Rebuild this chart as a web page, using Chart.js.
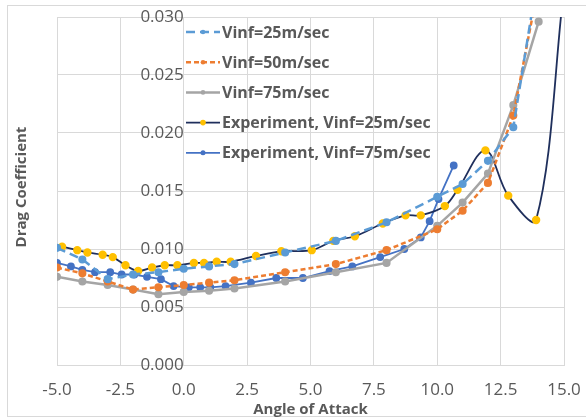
<!DOCTYPE html>
<html>
<head>
<meta charset="utf-8">
<script src="https://cdn.jsdelivr.net/npm/chart.js@4.4.1/dist/chart.umd.min.js"></script>
<style>
  html, body { margin: 0; padding: 0; background: #ffffff; }
  #wrap { width: 586px; height: 420px; position: relative; }
</style>
</head>
<body>
<div id="wrap"><canvas id="c" width="586" height="420"></canvas></div>
<script>
// ---- Data ----
const cfdAngles = [-5, -4, -3, -2, -1, 0, 1, 2, 4, 6, 8, 10, 11, 12, 13, 14];
const cdVinf25 = [0.0101, 0.0091, 0.0074, 0.0078, 0.0080, 0.0083, 0.0085, 0.0087, 0.0097, 0.0107, 0.0123, 0.0145, 0.0156, 0.0176, 0.0205, 0.0340];
const cdVinf50 = [0.0084, 0.0079, 0.0072, 0.0065, 0.0067, 0.0069, 0.0071, 0.0073, 0.0080, 0.0087, 0.0099, 0.0117, 0.0133, 0.0157, 0.0215, 0.0328];
const cdVinf75 = [0.0076, 0.0072, 0.0069, 0.0065, 0.0061, 0.0063, 0.0064, 0.0066, 0.0072, 0.0080, 0.0088, 0.0120, 0.0140, 0.0165, 0.0224, 0.0296];

const expAngles25 = [-4.8, -4.2, -3.8, -3.2, -2.8, -2.3, -1.8, -1.25, -0.75, -0.25, 0.4, 0.8, 1.3, 1.85, 2.85, 3.85, 5.05, 5.9, 6.75, 7.85, 8.75, 9.35, 10.3, 10.8, 11.9, 12.8, 13.9, 15.0];
const expCd25 = [0.0102, 0.0099, 0.0097, 0.0095, 0.0093, 0.0086, 0.0081, 0.0084, 0.0086, 0.0086, 0.0088, 0.0088, 0.0089, 0.0089, 0.0094, 0.0098, 0.0099, 0.0107, 0.0111, 0.0122, 0.0129, 0.0129, 0.0137, 0.0151, 0.0185, 0.0146, 0.0125, 0.0325];

const expAngles75 = [-5.0, -4.45, -4.0, -3.5, -2.9, -2.45, -1.95, -1.45, -0.9, -0.4, 0.2, 0.65, 1.05, 1.65, 2.65, 3.65, 4.7, 5.75, 6.65, 7.75, 8.7, 9.35, 9.7, 10.05, 10.65];
const expCd75 = [0.0088, 0.0085, 0.0082, 0.0080, 0.0080, 0.0078, 0.0078, 0.0076, 0.0074, 0.0068, 0.0067, 0.0067, 0.0067, 0.0068, 0.0071, 0.0075, 0.0075, 0.0081, 0.0085, 0.0093, 0.0100, 0.0110, 0.0124, 0.0143, 0.0172];

const seriesNames = ['Vinf=25m/sec', 'Vinf=50m/sec', 'Vinf=75m/sec', 'Experiment, Vinf=25m/sec', 'Experiment, Vinf=75m/sec'];
const xTickMin = -5, xTickMax = 15, xTickStep = 2.5;
const yTickMin = 0, yTickMax = 0.03, yTickStep = 0.005;
const xTitle = 'Angle of Attack';
const yTitle = 'Drag Coefficient';

const pts = (xs, ys) => xs.map((x, i) => ({ x: x, y: ys[i] }));

const TEXT = '#595959';
const FONT = '"Open Sans", "Noto Sans", sans-serif';

const chartFrame = {
  id: 'chartFrame',
  beforeDraw(chart) {
    const ctx = chart.ctx;
    ctx.save();
    ctx.fillStyle = '#ffffff';
    ctx.fillRect(0, 0, chart.width, chart.height);
    ctx.strokeStyle = '#D9D9D9';
    ctx.lineWidth = 1;
    ctx.strokeRect(7.5, 5.5, chart.width - 6, chart.height - 9);
    ctx.restore();
  },
  afterDraw(chart) {
    const ctx = chart.ctx;
    const a = chart.chartArea;
    // axis titles
    ctx.save();
    ctx.fillStyle = TEXT;
    ctx.font = 'bold 15px ' + FONT;
    ctx.textAlign = 'center';
    ctx.textBaseline = 'middle';
    ctx.fillText(xTitle, (a.left + a.right) / 2, a.bottom + 45);
    ctx.translate(22, (a.top + a.bottom) / 2 - 4);
    ctx.rotate(-Math.PI / 2);
    ctx.fillText(yTitle, 0, 0);
    ctx.restore();

    // legend (Excel style: line sample with a marker in the middle)
    ctx.save();
    const x0 = a.left + 129, x1 = a.left + 163;
    const rowTop = a.top + 15, rowGap = 30.2;
    chart.data.datasets.forEach((ds, i) => {
      const y = rowTop + i * rowGap;
      ctx.strokeStyle = ds.borderColor;
      ctx.lineWidth = ds.borderWidth;
      ctx.setLineDash(ds.borderDash || []);
      ctx.beginPath();
      ctx.moveTo(x0, y);
      ctx.lineTo(x1, y);
      ctx.stroke();
      ctx.setLineDash([]);
      ctx.fillStyle = ds.pointBackgroundColor;
      ctx.beginPath();
      ctx.arc((x0 + x1) / 2, y, Math.max(2, ds.pointRadius - 0.5), 0, Math.PI * 2);
      ctx.fill();
      ctx.fillStyle = TEXT;
      ctx.font = 'bold 16px ' + FONT;
      ctx.textAlign = 'left';
      ctx.textBaseline = 'middle';
      ctx.fillText(ds.label, x1 + 2, y + 1);
    });
    ctx.restore();
  }
};

new Chart(document.getElementById('c'), {
  type: 'line',
  data: {
    datasets: [
      {
        label: seriesNames[0], data: pts(cfdAngles, cdVinf25),
        borderColor: '#5B9BD5', backgroundColor: '#5B9BD5', pointBackgroundColor: '#5B9BD5', pointBorderColor: '#5B9BD5',
        borderWidth: 2.5, borderDash: [9, 5], pointRadius: 2.8, tension: 0
      },
      {
        label: seriesNames[1], data: pts(cfdAngles, cdVinf50),
        borderColor: '#ED7D31', backgroundColor: '#ED7D31', pointBackgroundColor: '#ED7D31', pointBorderColor: '#ED7D31',
        borderWidth: 2.5, borderDash: [5, 3], pointRadius: 2.8, tension: 0
      },
      {
        label: seriesNames[2], data: pts(cfdAngles, cdVinf75),
        borderColor: '#A5A5A5', backgroundColor: '#A5A5A5', pointBackgroundColor: '#A5A5A5', pointBorderColor: '#A5A5A5',
        borderWidth: 2.5, pointRadius: 2.8, tension: 0
      },
      {
        label: seriesNames[3], data: pts(expAngles25, expCd25),
        borderColor: '#1F2F5C', backgroundColor: '#FFC000', pointBackgroundColor: '#FFC000', pointBorderColor: '#FFC000',
        borderWidth: 1.8, pointRadius: 3.3, tension: 0.35
      },
      {
        label: seriesNames[4], data: pts(expAngles75, expCd75),
        borderColor: '#4472C4', backgroundColor: '#4472C4', pointBackgroundColor: '#4472C4', pointBorderColor: '#4472C4',
        borderWidth: 1.8, pointRadius: 3.0, tension: 0
      }
    ]
  },
  options: {
    responsive: false,
    animation: false,
    devicePixelRatio: 1,
    layout: { padding: { left: 57, right: 22, top: 17, bottom: 19.6 } },
    plugins: { legend: { display: false }, tooltip: { enabled: false } },
    scales: {
      x: {
        type: 'linear', position: 'bottom',
        min: xTickMin, max: xTickMax,
        ticks: { stepSize: xTickStep, color: TEXT, font: { family: FONT, size: 17 }, padding: 0, callback: v => v.toFixed(1) },
        grid: { color: '#D9D9D9', drawTicks: true, tickLength: 15, tickColor: 'rgba(0,0,0,0)' },
        border: { color: '#D9D9D9' }
      },
      y: {
        type: 'linear', position: { x: 0 },
        min: yTickMin, max: yTickMax,
        ticks: { stepSize: yTickStep, color: TEXT, font: { family: FONT, size: 17 }, padding: 0, callback: v => v.toFixed(3) },
        grid: { color: '#D9D9D9', drawTicks: true, tickLength: 22, tickColor: 'rgba(0,0,0,0)' },
        border: { color: '#D9D9D9' }
      }
    }
  },
  plugins: [chartFrame]
});
</script>
</body>
</html>
